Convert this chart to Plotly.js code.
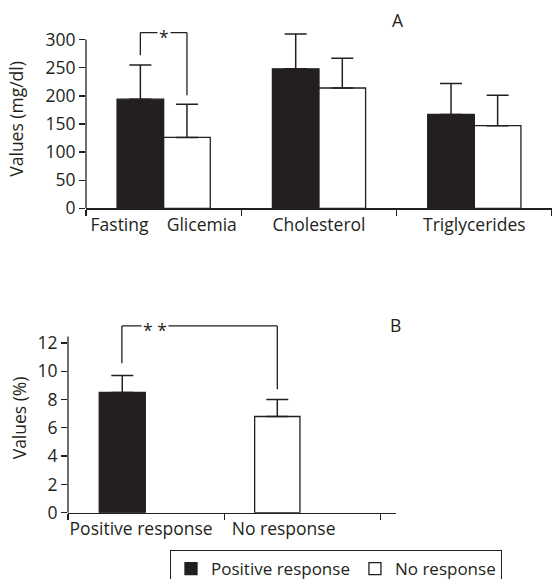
<!DOCTYPE html>
<html>
<head>
<meta charset="utf-8">
<script src="https://cdn.plot.ly/plotly-3.0.1.min.js"></script>
<style>html,body{margin:0;padding:0;background:#fff;}#chart{width:552px;height:579px;}</style>
</head>
<body>
<div id="chart"></div>
<script>
// ---- data ----
const categoriesA = ['Fasting Glicemia', 'Cholesterol', 'Triglycerides'];
const tickTextA = ['Fasting\u00a0\u00a0\u00a0\u00a0Glicemia', 'Cholesterol', 'Triglycerides'];
const positiveA = [194, 248, 167];
const positiveSdA = [61, 62, 55];
const noResponseA = [126, 214, 147];
const noResponseSdA = [59, 53, 54];

const categoriesB = ['Positive response', 'No response'];
const tickTextB = ['Positive response', 'No response\u00a0\u00a0\u00a0\u00a0\u00a0\u00a0'];
const positiveB = [8.5];
const positiveSdB = [1.2];
const noResponseB = [6.8];
const noResponseSdB = [1.2];

const seriesNames = ['Positive response', 'No response'];
const yTitleA = 'Values (mg/dl)';
const yTitleB = 'Values (%)';
const panelLabels = ['A', 'B'];
const sigA = '*';
const sigB = '* *';

// ---- styles ----
const ink = '#231f20';
const W = 552, H = 579;
const FS = 17.5;
const px = v => v / W;
const py = v => 1 - v / H;

function errUp(arr) {
  return {type: 'data', symmetric: false, array: arr, arrayminus: arr.map(() => 0),
          color: ink, thickness: 1.5, width: 11};
}

const traces = [
  {type: 'bar', name: seriesNames[0], legendgroup: 'p', x: categoriesA, y: positiveA,
   xaxis: 'x', yaxis: 'y', marker: {color: ink, line: {color: ink, width: 1.3}},
   error_y: errUp(positiveSdA)},
  {type: 'bar', name: seriesNames[1], legendgroup: 'n', x: categoriesA, y: noResponseA,
   xaxis: 'x', yaxis: 'y', marker: {color: '#ffffff', line: {color: ink, width: 1.3}},
   error_y: errUp(noResponseSdA)},
  {type: 'bar', name: seriesNames[0], legendgroup: 'p', showlegend: false,
   x: [categoriesB[0]], y: positiveB, xaxis: 'x2', yaxis: 'y2',
   offset: -0.3, width: 0.295,
   marker: {color: ink, line: {color: ink, width: 1.3}}, error_y: errUp(positiveSdB)},
  {type: 'bar', name: seriesNames[1], legendgroup: 'n', showlegend: false,
   x: [categoriesB[1]], y: noResponseB, xaxis: 'x2', yaxis: 'y2',
   offset: -0.305, width: 0.29,
   marker: {color: '#ffffff', line: {color: ink, width: 1.3}}, error_y: errUp(noResponseSdB)}
];

const axCommon = {showgrid: false, zeroline: false, ticks: 'outside', ticklen: 6,
  tickwidth: 1.3, tickcolor: ink, linecolor: ink, linewidth: 1.3, fixedrange: true,
  tickfont: {size: FS, color: ink}};

const line = (xref, yref, x0, y0, x1, y1) => ({type: 'line', xref, yref, x0, y0, x1, y1,
  line: {color: ink, width: 1.3}});

const layout = {
  width: W, height: H,
  margin: {l: 0, r: 0, t: 0, b: 0, autoexpand: false},
  paper_bgcolor: '#fff', plot_bgcolor: 'rgba(0,0,0,0)',
  font: {family: 'Open Sans, sans-serif', size: FS, color: ink},
  barmode: 'group', bargap: 0.4, bargroupgap: 0,
  showlegend: true,
  legend: {orientation: 'h', x: 336 / W, xanchor: 'center', y: py(550), yanchor: 'top',
    bordercolor: ink, borderwidth: 1, font: {size: 17, color: ink}, itemwidth: 30,
    traceorder: 'normal'},
  xaxis: Object.assign({}, axCommon, {domain: [px(86), 1], anchor: 'y', type: 'category',
    categoryorder: 'array', categoryarray: categoriesA, range: [-0.5, 2.5],
    tickson: 'boundaries', tickmode: 'array', tickvals: categoriesA, ticktext: tickTextA,
    tickangle: 0, showline: true}),
  yaxis: Object.assign({}, axCommon, {domain: [py(208.3), py(29.5)], anchor: 'x',
    range: [0, 318], dtick: 50, tick0: 0, showline: false,
    title: {text: yTitleA, standoff: 17, font: {size: FS, color: ink}}}),
  xaxis2: Object.assign({}, axCommon, {domain: [px(68), px(396)], anchor: 'y2', type: 'category',
    categoryorder: 'array', categoryarray: categoriesB, range: [-0.5, 1.6],
    tickson: 'boundaries', tickmode: 'array', tickvals: categoriesB, ticktext: tickTextB,
    tickangle: 0, ticklabelshift: -5, showline: true}),
  yaxis2: Object.assign({}, axCommon, {domain: [py(512.7), py(323.1)], anchor: 'x2',
    range: [0, 13.4], dtick: 2, tick0: 0, showline: false,
    title: {text: yTitleB, standoff: 6, font: {size: FS, color: ink}}}),
  shapes: [
    // y axis lines (stop at top tick)
    line('x domain', 'y', 0, 0, 0, 300),
    line('x2 domain', 'y2', 0, 0, 0, 12.45),
    // significance bracket A
    line('x', 'y', -0.15, 272, -0.15, 312.6),
    line('x', 'y', -0.15, 312.6, 0.15, 312.6),
    line('x', 'y', 0.15, 312.6, 0.15, 201),
    // significance bracket B
    line('x2', 'y2', -0.155, 10.56, -0.155, 13.2),
    line('x2', 'y2', -0.155, 13.2, 0.84, 13.2),
    line('x2', 'y2', 0.84, 13.2, 0.84, 8.72)
  ],
  annotations: [
    {xref: 'x', yref: 'y', x: 0.0, y: 312.6, text: sigA, showarrow: false,
     bgcolor: '#fff', borderpad: 1, yshift: -4, font: {size: FS, color: ink}},
    {xref: 'x2', yref: 'y2', x: 0.06, y: 13.2, text: sigB, showarrow: false,
     bgcolor: '#fff', borderpad: 1, yshift: -4, font: {size: FS, color: ink}},
    {xref: 'paper', yref: 'paper', x: px(398), y: py(20), text: panelLabels[0],
     showarrow: false, xanchor: 'center', yanchor: 'middle', font: {size: FS, color: ink}},
    {xref: 'paper', yref: 'paper', x: px(395), y: py(325), text: panelLabels[1],
     showarrow: false, xanchor: 'center', yanchor: 'middle', font: {size: FS, color: ink}}
  ]
};

Plotly.newPlot('chart', traces, layout, {staticPlot: true, displayModeBar: false});
</script>
</body>
</html>
